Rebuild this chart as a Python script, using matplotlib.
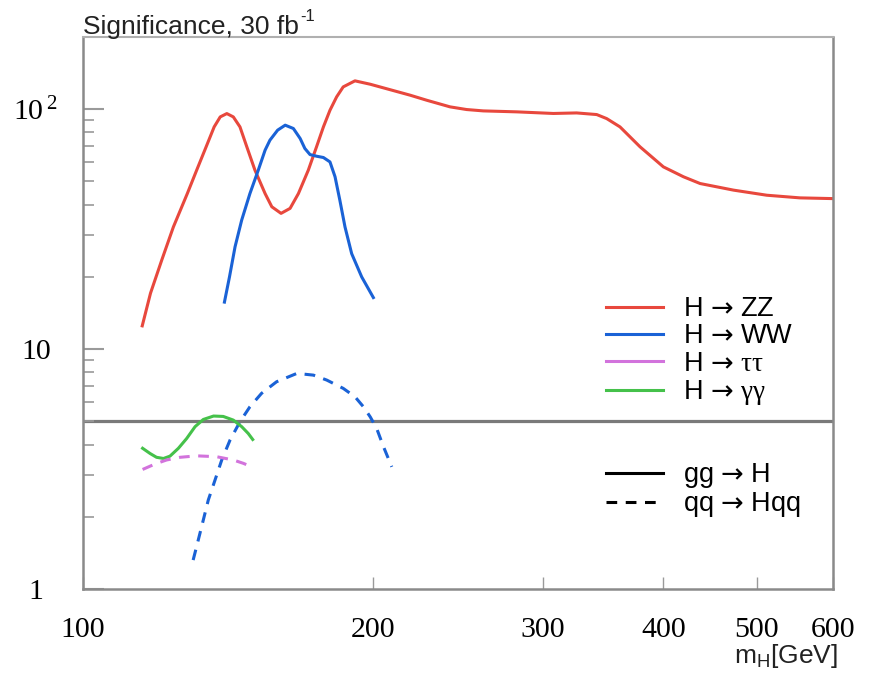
import numpy as np
import matplotlib
matplotlib.use('Agg')
import matplotlib.pyplot as plt
from matplotlib.lines import Line2D
from matplotlib.ticker import FixedLocator, NullLocator, LogLocator, NullFormatter

plt.rcParams['mathtext.fontset'] = 'custom'
plt.rcParams['mathtext.rm'] = 'Liberation Serif'
plt.rcParams['mathtext.sf'] = 'Liberation Sans'
plt.rcParams['mathtext.tt'] = 'DejaVu Sans'
plt.rcParams['font.family'] = ['Liberation Sans', 'DejaVu Sans']

#=================================================================
# significance vs Higgs mass, 30 fb^-1
mh_zz = [115.2, 117.5, 120.7, 124.1, 128.3, 131.2, 134.2, 136.8, 138.8, 141.0,
         143.2, 145.5, 147.9, 150.8, 154.5, 157.0, 160.5, 164.0, 167.3, 171.3,
         174.7, 177.6, 180.4, 183.3, 186.2, 191.5, 198.6, 218.5, 227.3, 240.3,
         250.0, 260.2, 281.8, 307.6, 325.2, 341.2, 349.4, 360.7, 378.4, 400.1,
         419.7, 436.8, 473.0, 512.2, 554.5, 600.0]
s_zz = [12.5, 17.1, 23.5, 32.3, 44.5, 55.7, 69.7, 84.4, 92.9, 95.9,
        92.9, 84.4, 69.7, 55.7, 44.5, 39.2, 36.8, 38.6, 44.5, 55.7,
        69.7, 84.4, 99.0, 112.6, 123.9, 131.3, 127.1, 114.4, 109.0, 102.3,
        99.7, 98.4, 97.5, 96.0, 96.5, 95.0, 91.4, 84.4, 69.7, 57.5,
        52.3, 49.0, 46.0, 43.8, 42.7, 42.4]

mh_ww = [140.2, 141.9, 143.8, 146.1, 149.0, 152.0, 154.5, 156.3, 159.2, 162.1,
         165.3, 168.0, 169.9, 172.0, 174.7, 177.6, 180.4, 182.6, 184.7, 187.0,
         190.0, 194.6, 200.1]
s_ww = [15.7, 20.0, 26.7, 34.5, 44.5, 55.7, 67.5, 74.3, 81.8, 85.8,
        83.1, 75.5, 68.6, 64.7, 63.7, 62.9, 60.3, 52.3, 41.8, 32.3,
        25.0, 20.0, 16.4]

mh_ww_vbf = [130.1, 131.7, 133.3, 134.9, 137.1, 139.3, 142.1, 145.5, 149.0, 153.2,
             158.8, 166.7, 173.4, 179.0, 186.2, 191.5, 195.4, 198.6, 201.7, 205.0,
             209.1]
s_ww_vbf = [1.32, 1.60, 1.94, 2.35, 2.85, 3.45, 4.18, 4.98, 5.75, 6.54,
            7.31, 7.92, 7.79, 7.43, 6.86, 6.33, 5.75, 5.22, 4.67, 3.92,
            3.23]

mh_gg = [115.3, 117.4, 119.2, 121.2, 123.1, 125.6, 128.1, 130.7, 133.3, 136.6,
         139.8, 143.2, 146.1, 148.4, 150.0]
s_gg = [3.86, 3.67, 3.54, 3.50, 3.58, 3.86, 4.24, 4.75, 5.09, 5.26,
        5.24, 5.06, 4.75, 4.45, 4.20]

mh_tt = [115.3, 118.8, 122.1, 126.1, 131.2, 137.6, 143.2, 146.7, 149.6]
s_tt = [3.15, 3.32, 3.45, 3.54, 3.59, 3.56, 3.45, 3.34, 3.23]

discovery = 5.0

c_zz = '#e8483d'
c_ww = '#1a62d6'
c_tt = '#d273dc'
c_gg = '#45c14a'
dash = (0, (3.5, 2.8))

#=================================================================
fig = plt.figure(figsize=(8.78, 6.73), dpi=100)
axes = fig.add_axes([83/878, 1-589/673, 750/878, 552/673])

axes.axhline(discovery, color='#7a7a7a', lw=2.3, zorder=1)

axes.plot(mh_zz, s_zz, color=c_zz, lw=2.2)
axes.plot(mh_ww, s_ww, color=c_ww, lw=2.2)
axes.plot(mh_ww_vbf, s_ww_vbf, color=c_ww, lw=2.2, linestyle=dash)
axes.plot(mh_gg, s_gg, color=c_gg, lw=2.2)
axes.plot(mh_tt, s_tt, color=c_tt, lw=2.2, linestyle=dash)

axes.set_xscale('log')
axes.set_yscale('log')
axes.set_xlim(100, 600)
axes.set_ylim(1, 200)

axes.xaxis.set_major_locator(FixedLocator([100, 200, 300, 400, 500, 600]))
axes.xaxis.set_minor_locator(NullLocator())
axes.set_xticklabels(['100', '200', '300', '400', '500', '600'],
                     family='Liberation Serif', fontsize=21.5)
axes.tick_params(axis='x', which='major', direction='in', length=9, width=1,
                 color='#9a9a9a', pad=20)

axes.yaxis.set_major_locator(FixedLocator([1, 10, 100]))
axes.yaxis.set_minor_locator(LogLocator(base=10, subs=np.arange(2, 10)))
axes.yaxis.set_minor_formatter(NullFormatter())
axes.set_yticklabels(['1', '10', r'$\mathrm{10^{\,2}}$'],
                     family='Liberation Serif', fontsize=21.5)
for lab in axes.get_yticklabels():
  lab.set_horizontalalignment('center')
axes.tick_params(axis='y', which='major', direction='in', length=15, width=1.5,
                 color='#9a9a9a', pad=34)
axes.tick_params(axis='y', which='minor', direction='in', length=8, width=1.2,
                 color='#9a9a9a')

for side in ['left', 'bottom', 'right']:
  axes.spines[side].set_color('#8a8a8a')
  axes.spines[side].set_linewidth(1.8)
axes.spines['top'].set_color('#b0b0b0')
axes.spines['top'].set_linewidth(1.5)

title = fig.text(83/878, 1-34/673, 'Significance, 30 fb', fontsize=19,
                 color='#222222', ha='left', va='baseline')
axes.annotate('-1', xy=(1, 1), xycoords=title, xytext=(1, 4),
              textcoords='offset points', fontsize=12, color='#222222',
              ha='left', va='top')
fig.text(838/878, 1-663/673, r'm$_{\mathsf{H}}$[GeV]', fontsize=19,
         color='#222222', ha='right', va='baseline')

#=================================================================
arrow = r' $\mathtt{→}$ '
h1 = [Line2D([], [], color=c, lw=2.2) for c in [c_zz, c_ww, c_tt, c_gg]]
leg1 = axes.legend(h1, ['H' + arrow + 'ZZ', 'H' + arrow + 'WW',
                        'H' + arrow + r'$\mathrm{ττ}$', 'H' + arrow + r'$\mathrm{γγ}$'],
                   loc='upper left', bbox_to_anchor=(606/878, 1-296/673),
                   bbox_transform=fig.transFigure, frameon=False, fontsize=19.5,
                   handlelength=2.1, handletextpad=0.75, labelspacing=0.05,
                   borderpad=0, borderaxespad=0)
axes.add_artist(leg1)

h2 = [Line2D([], [], color='k', lw=2.2),
      Line2D([], [], color='k', lw=2.2, linestyle=dash)]
axes.legend(h2, ['gg' + arrow + 'H', 'qq' + arrow + 'Hqq'],
            loc='upper left', bbox_to_anchor=(606/878, 1-461/673),
            bbox_transform=fig.transFigure, frameon=False, fontsize=19.5,
            handlelength=2.1, handletextpad=0.75, labelspacing=0.0,
            borderpad=0, borderaxespad=0)

fig.savefig('out.png', dpi=100)
